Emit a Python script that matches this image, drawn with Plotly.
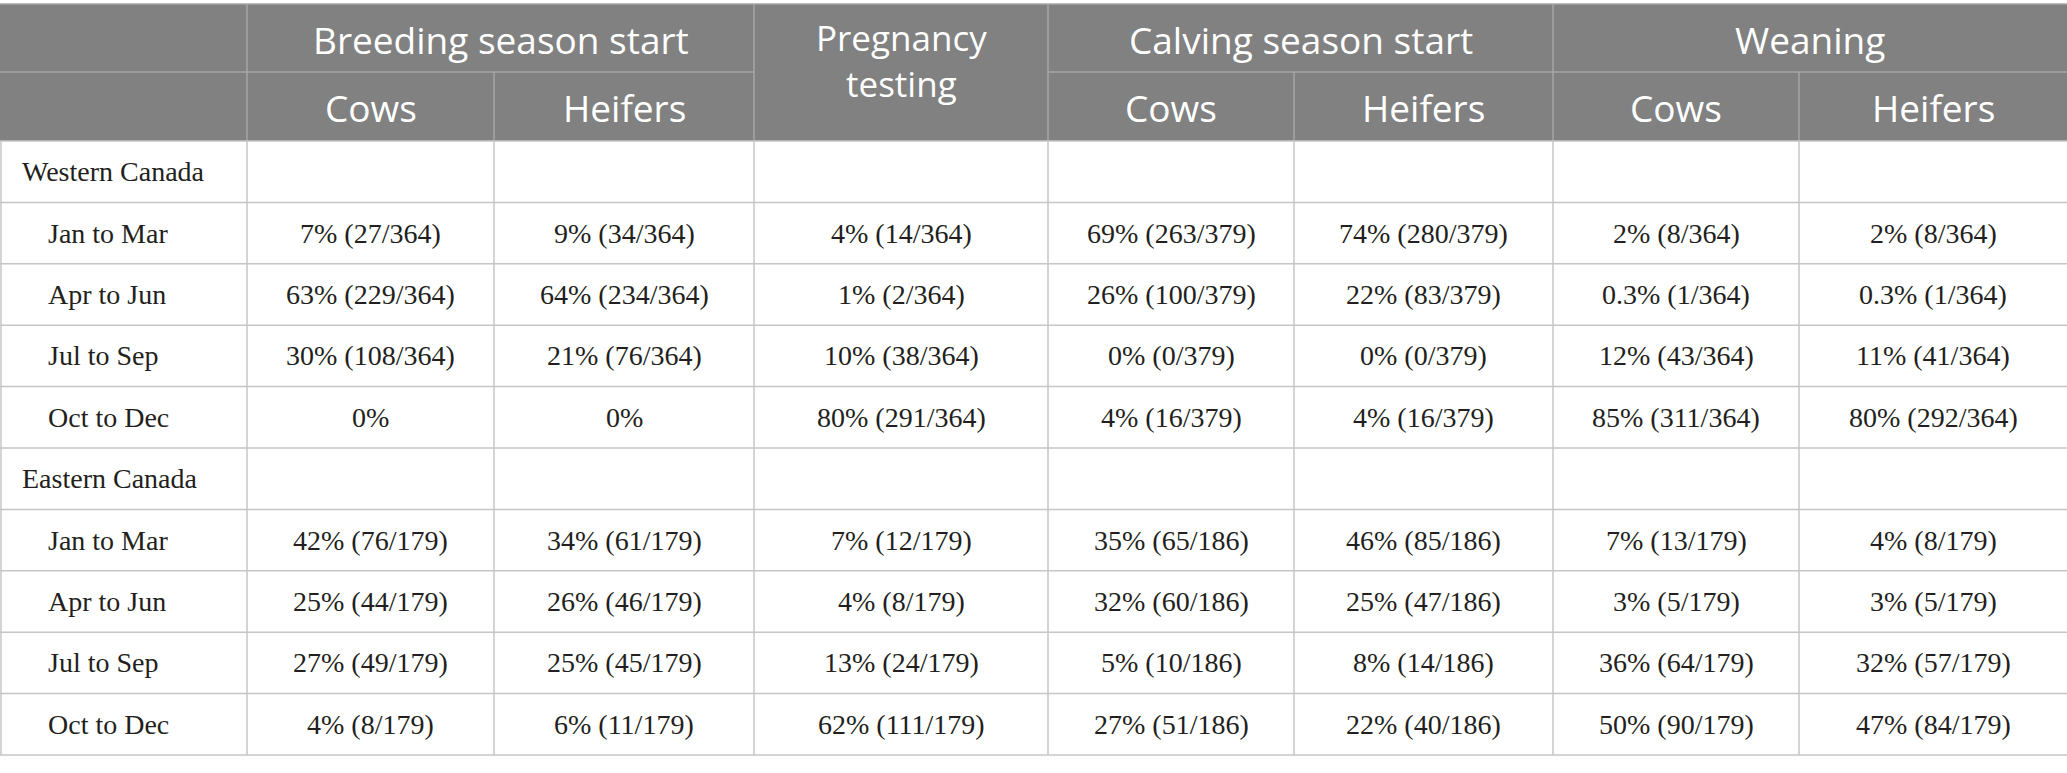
import plotly.graph_objects as go

# table content
periods = ["Jan to Mar", "Apr to Jun", "Jul to Sep", "Oct to Dec"]
regions = ["Western Canada", "Eastern Canada"]
groups = ["Breeding season start", "Pregnancy<br>testing", "Calving season start", "Weaning"]
sub_headers = ["Cows", "Heifers"]

western_breeding_cows = ["7% (27/364)", "63% (229/364)", "30% (108/364)", "0%"]
western_breeding_heifers = ["9% (34/364)", "64% (234/364)", "21% (76/364)", "0%"]
western_pregnancy = ["4% (14/364)", "1% (2/364)", "10% (38/364)", "80% (291/364)"]
western_calving_cows = ["69% (263/379)", "26% (100/379)", "0% (0/379)", "4% (16/379)"]
western_calving_heifers = ["74% (280/379)", "22% (83/379)", "0% (0/379)", "4% (16/379)"]
western_weaning_cows = ["2% (8/364)", "0.3% (1/364)", "12% (43/364)", "85% (311/364)"]
western_weaning_heifers = ["2% (8/364)", "0.3% (1/364)", "11% (41/364)", "80% (292/364)"]

eastern_breeding_cows = ["42% (76/179)", "25% (44/179)", "27% (49/179)", "4% (8/179)"]
eastern_breeding_heifers = ["34% (61/179)", "26% (46/179)", "25% (45/179)", "6% (11/179)"]
eastern_pregnancy = ["7% (12/179)", "4% (8/179)", "13% (24/179)", "62% (111/179)"]
eastern_calving_cows = ["35% (65/186)", "32% (60/186)", "5% (10/186)", "27% (51/186)"]
eastern_calving_heifers = ["46% (85/186)", "25% (47/186)", "8% (14/186)", "22% (40/186)"]
eastern_weaning_cows = ["7% (13/179)", "3% (5/179)", "36% (64/179)", "50% (90/179)"]
eastern_weaning_heifers = ["4% (8/179)", "3% (5/179)", "32% (57/179)", "47% (84/179)"]

western = [western_breeding_cows, western_breeding_heifers, western_pregnancy,
           western_calving_cows, western_calving_heifers,
           western_weaning_cows, western_weaning_heifers]
eastern = [eastern_breeding_cows, eastern_breeding_heifers, eastern_pregnancy,
           eastern_calving_cows, eastern_calving_heifers,
           eastern_weaning_cows, eastern_weaning_heifers]

# geometry in pixels
W, H = 2067, 773
col_edges = [0, 247, 494, 754, 1048, 1294, 1553, 1799, 2067]
head_top, head_mid, head_bot = 4, 72, 141
table_bot = 755
n_body = 10
row_h = (table_bot - head_bot) / n_body
row_edges = [head_bot + i * row_h for i in range(n_body + 1)]

HEAD_BG = "#808180"
HEAD_LINE = "#a6a6a6"
GRID = "#c6c6c6"
TXT = "#231f20"
sans = "Open Sans"
serif = "Liberation Serif"
HEAD_SIZE = 37
BODY_SIZE = 28

fig = go.Figure()
shapes = []
annotations = []

# header background
shapes.append(dict(type="rect", x0=0, x1=W, y0=head_top, y1=head_bot,
                   fillcolor=HEAD_BG, line_width=0, layer="below"))


def hline(x0, x1, y, color, w=1.5):
    shapes.append(dict(type="line", x0=x0, x1=x1, y0=y, y1=y,
                       line=dict(color=color, width=w)))


def vline(x, y0, y1, color, w=1.5):
    shapes.append(dict(type="line", x0=x, x1=x, y0=y0, y1=y1,
                       line=dict(color=color, width=w)))


# header lines
hline(0, W, head_top, HEAD_LINE)
hline(0, col_edges[3], head_mid, HEAD_LINE)
hline(col_edges[4], W, head_mid, HEAD_LINE)
for i in [1, 3, 4, 6]:
    vline(col_edges[i], head_top, head_bot, HEAD_LINE)
for i in [2, 5, 7]:
    vline(col_edges[i], head_mid, head_bot, HEAD_LINE)

# body grid
for y in row_edges:
    hline(0, W, y, GRID)
for x in col_edges[:-1]:
    vline(max(x, 1), head_bot, table_bot, GRID)

# header text
group_spans = [(1, 3), (3, 4), (4, 6), (6, 8)]
for g, (a, b) in zip(groups, group_spans):
    xc = (col_edges[a] + col_edges[b]) / 2
    yc = 60 if "<br>" in g else (head_top + head_mid) / 2 + 1
    annotations.append(dict(x=xc, y=yc, text=g, showarrow=False,
                            font=dict(family=sans, size=HEAD_SIZE - (2 if "<br>" in g else 0),
                                      color="white")))
for i in [1, 2, 4, 5, 6, 7]:
    sub = sub_headers[0] if i in (1, 4, 6) else sub_headers[1]
    annotations.append(dict(x=(col_edges[i] + col_edges[i + 1]) / 2,
                            y=(head_mid + head_bot) / 2 + 1, text=sub, showarrow=False,
                            font=dict(family=sans, size=HEAD_SIZE, color="white")))

# body text
for r, (region, block) in enumerate(zip(regions, [western, eastern])):
    base = r * 5
    yc = (row_edges[base] + row_edges[base + 1]) / 2
    annotations.append(dict(x=20, y=yc, text=region, showarrow=False, xanchor="left",
                            font=dict(family=serif, size=BODY_SIZE, color=TXT)))
    for p, period in enumerate(periods):
        ri = base + 1 + p
        yc = (row_edges[ri] + row_edges[ri + 1]) / 2
        annotations.append(dict(x=46, y=yc, text=period, showarrow=False, xanchor="left",
                                font=dict(family=serif, size=BODY_SIZE, color=TXT)))
        for c, col in enumerate(block):
            annotations.append(dict(x=(col_edges[c + 1] + col_edges[c + 2]) / 2, y=yc,
                                    text=col[p], showarrow=False,
                                    font=dict(family=serif, size=BODY_SIZE, color=TXT)))

fig.update_layout(
    width=W, height=H,
    margin=dict(l=0, r=0, t=0, b=0),
    paper_bgcolor="white", plot_bgcolor="white",
    xaxis=dict(range=[0, W], visible=False, fixedrange=True),
    yaxis=dict(range=[H, 0], visible=False, fixedrange=True),
    shapes=shapes, annotations=annotations,
    showlegend=False,
)
# drop the default page margin so the table sits flush with the window
fig.write_html("out.html", config={"displayModeBar": False},
               post_script="document.body.style.margin='0';document.body.style.overflow='hidden';")
